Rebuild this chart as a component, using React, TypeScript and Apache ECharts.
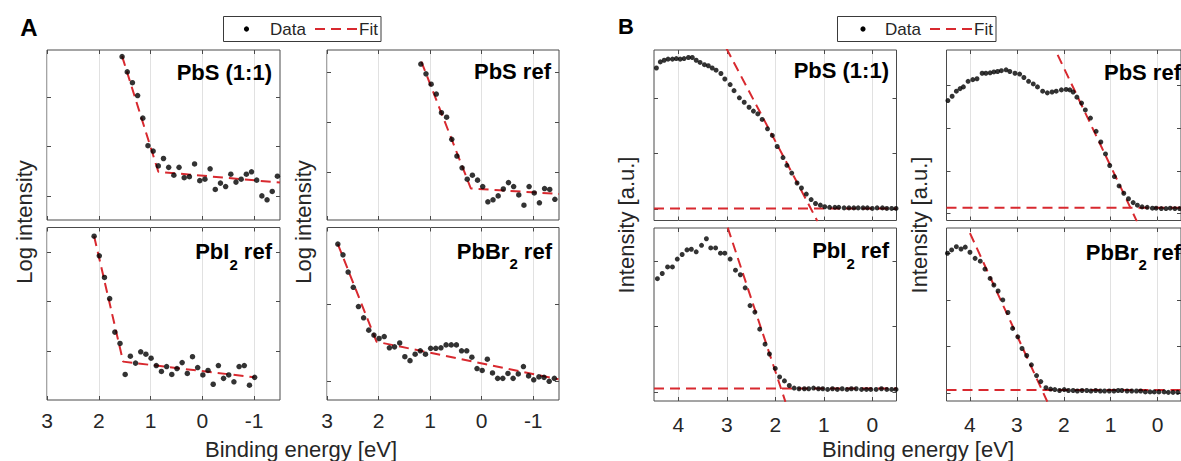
import React, { useEffect, useRef } from 'react';
import * as echarts from 'echarts';

const FONT = '"Liberation Sans", Arial, Helvetica, sans-serif';
const RED = '#d8292f';
const INK = '#262626';
const BOX = '#4a4a4a';

const legendItems = ['Data', 'Fit'];
const aXTickValues = [3, 2, 1, 0, -1];
const bXTickValues = [4, 3, 2, 1, 0];
const yTitleA = 'Log intensity';
const yTitleB = 'Intensity [a.u.]';
const xTitle = 'Binding energy [eV]';

// ---------- Panel A (log intensity) ----------
const aPbS11X = [1.55, 1.45, 1.35, 1.25, 1.15, 1.05, 0.95, 0.85, 0.75, 0.65, 0.55, 0.45, 0.35, 0.25, 0.15, 0.05, -0.05, -0.15, -0.25, -0.35, -0.45, -0.55, -0.65, -0.75, -0.85, -0.95, -1.05, -1.15, -1.25, -1.35, -1.45];
const aPbS11Y = [3.32, 3.01, 2.79, 2.53, 2.07, 1.51, 1.40, 1.10, 1.25, 1.07, 0.91, 1.07, 0.86, 0.88, 1.14, 0.80, 0.83, 1.04, 0.62, 0.75, 0.68, 0.93, 0.77, 0.83, 0.93, 0.98, 0.81, 0.49, 0.41, 0.58, 0.89];
const aPbS11FitX = [1.55, 0.85, -1.5];
const aPbS11FitY = [3.33, 0.98, 0.76];
const aPbS11YTicks = [0.49, 1.49, 2.49];

const aPbSRefX = [1.18, 1.08, 0.98, 0.88, 0.78, 0.68, 0.58, 0.48, 0.38, 0.28, 0.18, 0.08, -0.02, -0.12, -0.22, -0.32, -0.42, -0.52, -0.62, -0.72, -0.82, -0.92, -1.02, -1.12, -1.22, -1.32, -1.42];
const aPbSRefY = [3.17, 2.97, 2.76, 2.56, 2.18, 2.09, 1.64, 1.30, 1.06, 0.83, 0.91, 0.81, 0.68, 0.37, 0.41, 0.49, 0.63, 0.76, 0.68, 0.51, 0.30, 0.68, 0.55, 0.35, 0.64, 0.62, 0.42];
const aPbSRefFitX = [1.17, 0.21, -1.5];
const aPbSRefFitY = [3.22, 0.64, 0.53];
const aPbSRefYTicks = [0.98, 1.99, 3.0];

const aPbI2X = [2.09, 1.99, 1.89, 1.79, 1.69, 1.59, 1.49, 1.39, 1.29, 1.19, 1.09, 0.99, 0.89, 0.79, 0.69, 0.59, 0.49, 0.39, 0.29, 0.19, 0.09, -0.01, -0.11, -0.21, -0.31, -0.41, -0.51, -0.61, -0.71, -0.81, -0.91, -1.01];
const aPbI2Y = [3.33, 2.93, 2.49, 2.06, 1.38, 1.15, 0.52, 0.89, 0.75, 0.98, 0.93, 0.85, 0.70, 0.58, 0.68, 0.52, 0.64, 0.76, 0.54, 0.88, 0.66, 0.51, 0.60, 0.32, 0.70, 0.44, 0.51, 0.37, 0.68, 0.70, 0.30, 0.46];
const aPbI2FitX = [2.09, 1.53, -1.01];
const aPbI2FitY = [3.33, 0.78, 0.46];
const aPbI2YTicks = [1.0, 2.01, 3.01];

const aPbBr2X = [2.79, 2.69, 2.59, 2.49, 2.39, 2.29, 2.19, 2.09, 1.99, 1.89, 1.79, 1.69, 1.59, 1.49, 1.39, 1.29, 1.19, 1.09, 0.99, 0.89, 0.79, 0.69, 0.59, 0.49, 0.39, 0.29, 0.19, 0.09, -0.01, -0.11, -0.21, -0.31, -0.41, -0.51, -0.61, -0.71, -0.81, -0.91, -1.01, -1.11, -1.21, -1.31, -1.41];
const aPbBr2Y = [3.17, 2.95, 2.60, 2.29, 1.90, 1.67, 1.42, 1.32, 1.25, 1.29, 1.06, 1.08, 1.16, 0.88, 0.80, 0.93, 1.00, 0.93, 1.05, 1.05, 1.06, 1.12, 1.12, 1.12, 1.00, 1.00, 0.87, 0.64, 0.60, 0.83, 0.55, 0.44, 0.44, 0.54, 0.44, 0.53, 0.68, 0.49, 0.41, 0.47, 0.46, 0.38, 0.44];
const aPbBr2FitX = [2.79, 2.04, -1.49];
const aPbBr2FitY = [3.17, 1.185, 0.42];
const aPbBr2YTicks = [0.39, 1.95];

// ---------- Panel B (linear intensity) ----------
const bPbS11X = [4.45, 4.37, 4.29, 4.21, 4.12, 4.04, 3.96, 3.88, 3.79, 3.71, 3.63, 3.55, 3.46, 3.38, 3.30, 3.22, 3.12, 3.04, 2.93, 2.85, 2.74, 2.64, 2.54, 2.45, 2.36, 2.27, 2.16, 2.06, 1.96, 1.84, 1.76, 1.66, 1.55, 1.46, 1.36, 1.26, 1.17, 1.07, 0.98, 0.88, 0.77, 0.69, 0.58, 0.48, 0.38, 0.29, 0.19, 0.10, 0.00, -0.10, -0.21, -0.30, -0.40, -0.49];
const bPbS11Y = [2.55, 2.66, 2.69, 2.71, 2.71, 2.72, 2.71, 2.72, 2.74, 2.74, 2.69, 2.65, 2.61, 2.59, 2.55, 2.51, 2.45, 2.35, 2.25, 2.14, 2.01, 1.93, 1.84, 1.77, 1.72, 1.62, 1.45, 1.33, 1.13, 0.93, 0.79, 0.65, 0.47, 0.38, 0.27, 0.17, 0.10, 0.07, 0.04, 0.03, 0.03, 0.03, 0.02, 0.02, 0.02, 0.02, 0.02, 0.02, 0.01, 0.02, 0.02, 0.01, 0.01, 0.01];
const bPbS11SlopeX = [3.01, 1.13];
const bPbS11SlopeY = [2.91, -0.22];
const bPbS11BaseX = [4.5, -0.5];
const bPbS11BaseY = [0.01, 0.01];
const bPbS11YTicks = [0, 1, 2];

const bPbSRefX = [4.47, 4.38, 4.29, 4.21, 4.14, 4.04, 3.94, 3.85, 3.74, 3.66, 3.57, 3.49, 3.41, 3.33, 3.23, 3.15, 3.04, 2.94, 2.85, 2.75, 2.65, 2.56, 2.45, 2.35, 2.25, 2.16, 2.05, 1.95, 1.87, 1.80, 1.72, 1.62, 1.54, 1.43, 1.31, 1.21, 1.11, 1.02, 0.92, 0.82, 0.72, 0.62, 0.52, 0.43, 0.33, 0.22, 0.11, 0.03, -0.08, -0.18, -0.27, -0.37, -0.47];
const bPbSRefY = [2.65, 2.75, 2.87, 2.93, 2.97, 3.10, 3.14, 3.16, 3.29, 3.29, 3.30, 3.32, 3.33, 3.35, 3.37, 3.33, 3.29, 3.27, 3.19, 3.10, 3.04, 2.97, 2.87, 2.83, 2.85, 2.87, 2.90, 2.91, 2.90, 2.85, 2.73, 2.59, 2.43, 2.24, 1.93, 1.68, 1.40, 1.13, 0.87, 0.65, 0.48, 0.35, 0.26, 0.20, 0.16, 0.15, 0.13, 0.13, 0.12, 0.12, 0.13, 0.12, 0.12];
const bPbSRefSlopeX = [2.13, 0.44];
const bPbSRefSlopeY = [3.72, -0.18];
const bPbSRefBaseX = [4.5, -0.5];
const bPbSRefBaseY = [0.14, 0.14];
const bPbSRefYTicks = [0, 1, 2, 3];

const bPbI2X = [4.43, 4.33, 4.22, 4.12, 4.02, 3.92, 3.82, 3.73, 3.63, 3.52, 3.42, 3.33, 3.23, 3.13, 3.04, 2.93, 2.82, 2.72, 2.62, 2.52, 2.42, 2.32, 2.21, 2.12, 2.00, 1.91, 1.81, 1.71, 1.61, 1.51, 1.40, 1.31, 1.21, 1.11, 1.02, 0.92, 0.82, 0.72, 0.62, 0.52, 0.43, 0.33, 0.22, 0.12, 0.03, -0.08, -0.19, -0.30, -0.40, -0.49];
const bPbI2Y = [1.73, 1.81, 1.91, 1.91, 2.03, 2.10, 2.17, 2.18, 2.14, 2.24, 2.34, 2.20, 2.20, 2.12, 2.12, 2.03, 1.86, 1.79, 1.59, 1.32, 1.22, 0.96, 0.73, 0.58, 0.36, 0.23, 0.17, 0.10, 0.06, 0.05, 0.05, 0.05, 0.06, 0.05, 0.05, 0.04, 0.05, 0.04, 0.05, 0.04, 0.05, 0.05, 0.04, 0.04, 0.04, 0.04, 0.05, 0.04, 0.04, 0.04];
const bPbI2SlopeX = [2.98, 1.79];
const bPbI2SlopeY = [2.51, -0.15];
const bPbI2BaseX = [4.5, -0.5];
const bPbI2BaseY = [0.055, 0.055];
const bPbI2YTicks = [0, 1, 2];

const bPbBr2X = [4.48, 4.39, 4.29, 4.19, 4.10, 4.00, 3.89, 3.78, 3.68, 3.57, 3.49, 3.40, 3.30, 3.19, 3.09, 2.98, 2.89, 2.79, 2.69, 2.58, 2.49, 2.38, 2.28, 2.19, 2.09, 1.99, 1.90, 1.80, 1.71, 1.61, 1.51, 1.42, 1.32, 1.22, 1.13, 1.03, 0.93, 0.84, 0.76, 0.65, 0.55, 0.45, 0.36, 0.26, 0.16, 0.07, -0.03, -0.14, -0.23, -0.33, -0.43];
const bPbBr2Y = [3.00, 3.07, 3.14, 3.09, 3.13, 3.02, 2.89, 2.83, 2.66, 2.46, 2.32, 2.19, 2.00, 1.73, 1.39, 1.21, 0.96, 0.81, 0.61, 0.38, 0.25, 0.12, 0.09, 0.08, 0.06, 0.08, 0.06, 0.06, 0.05, 0.06, 0.06, 0.05, 0.06, 0.05, 0.05, 0.05, 0.05, 0.06, 0.06, 0.05, 0.05, 0.05, 0.05, 0.03, 0.03, 0.03, 0.03, 0.03, 0.02, 0.02, 0.02];
const bPbBr2SlopeX = [4.0, 2.35];
const bPbBr2SlopeY = [3.43, -0.18];
const bPbBr2BaseX = [4.5, -0.5];
const bPbBr2BaseY = [0.07, 0.07];
const bPbBr2YTicks = [0, 1, 2, 3];

// title pieces: [text, isSubscript]
const tPbS11: [string, boolean][] = [['PbS (1:1)', false]];
const tPbSRef: [string, boolean][] = [['PbS ref', false]];
const tPbI2: [string, boolean][] = [['PbI', false], ['2', true], [' ref', false]];
const tPbBr2: [string, boolean][] = [['PbBr', false], ['2', true], [' ref', false]];

type Plot = {
  title: [string, boolean][]; tx: number; ty: number;
  left: number; top: number; width: number; height: number;
  xMin: number; xMax: number; xTicks: number[]; xLabels: boolean; labelMargin: number;
  yMin: number; yMax: number; yTicks: number[];
  dataX: number[]; dataY: number[]; dot: number; fits: number[][][];
};

const plots: Plot[] = [
  { title: tPbS11, tx: 272, ty: 72.5, left: 47, top: 50, width: 233, height: 170, xMin: -1.5, xMax: 3, xTicks: aXTickValues, xLabels: false, labelMargin: 11, yMin: 0, yMax: 3.455, yTicks: aPbS11YTicks, dataX: aPbS11X, dataY: aPbS11Y, dot: 5.5, fits: [[aPbS11FitX, aPbS11FitY]] },
  { title: tPbSRef, tx: 551, ty: 71.5, left: 327, top: 50, width: 232, height: 170, xMin: -1.5, xMax: 3, xTicks: aXTickValues, xLabels: false, labelMargin: 11, yMin: 0, yMax: 3.455, yTicks: aPbSRefYTicks, dataX: aPbSRefX, dataY: aPbSRefY, dot: 5.5, fits: [[aPbSRefFitX, aPbSRefFitY]] },
  { title: tPbI2, tx: 272, ty: 251.5, left: 47, top: 227.5, width: 233, height: 172.5, xMin: -1.5, xMax: 3, xTicks: aXTickValues, xLabels: true, labelMargin: 10, yMin: 0, yMax: 3.506, yTicks: aPbI2YTicks, dataX: aPbI2X, dataY: aPbI2Y, dot: 5.5, fits: [[aPbI2FitX, aPbI2FitY]] },
  { title: tPbBr2, tx: 552, ty: 251, left: 327, top: 227.5, width: 232, height: 172.5, xMin: -1.5, xMax: 3, xTicks: aXTickValues, xLabels: true, labelMargin: 10, yMin: 0, yMax: 3.506, yTicks: aPbBr2YTicks, dataX: aPbBr2X, dataY: aPbBr2Y, dot: 5.5, fits: [[aPbBr2FitX, aPbBr2FitY]] },
  { title: tPbS11, tx: 889, ty: 70.5, left: 654, top: 50, width: 242.5, height: 170.5, xMin: -0.5, xMax: 4.5, xTicks: bXTickValues, xLabels: false, labelMargin: 13, yMin: -0.208, yMax: 2.875, yTicks: bPbS11YTicks, dataX: bPbS11X, dataY: bPbS11Y, dot: 5, fits: [[bPbS11BaseX, bPbS11BaseY], [bPbS11SlopeX, bPbS11SlopeY]] },
  { title: tPbSRef, tx: 1181, ty: 72, left: 946.5, top: 50, width: 242.5, height: 170.5, xMin: -0.5, xMax: 4.5, xTicks: bXTickValues, xLabels: false, labelMargin: 13, yMin: -0.159, yMax: 3.834, yTicks: bPbSRefYTicks, dataX: bPbSRefX, dataY: bPbSRefY, dot: 5, fits: [[bPbSRefBaseX, bPbSRefBaseY], [bPbSRefSlopeX, bPbSRefSlopeY]] },
  { title: tPbI2, tx: 889, ty: 250.8, left: 654, top: 228, width: 242.5, height: 173, xMin: -0.5, xMax: 4.5, xTicks: bXTickValues, xLabels: true, labelMargin: 13, yMin: -0.137, yMax: 2.504, yTicks: bPbI2YTicks, dataX: bPbI2X, dataY: bPbI2Y, dot: 5, fits: [[bPbI2BaseX, bPbI2BaseY], [bPbI2SlopeX, bPbI2SlopeY]] },
  { title: tPbBr2, tx: 1181, ty: 252, left: 946.5, top: 228, width: 242.5, height: 173, xMin: -0.5, xMax: 4.5, xTicks: bXTickValues, xLabels: true, labelMargin: 13, yMin: -0.165, yMax: 3.54, yTicks: bPbBr2YTicks, dataX: bPbBr2X, dataY: bPbBr2Y, dot: 5, fits: [[bPbBr2BaseX, bPbBr2BaseY], [bPbBr2SlopeX, bPbBr2SlopeY]] },
];

const zip = (xs: number[], ys: number[]) => xs.map((x, i) => [x, ys[i]]);

function makeMeasurer() {
  const ctx = document.createElement('canvas').getContext('2d');
  return (text: string, size: number, weight: string) => {
    if (!ctx) return text.length * size * 0.6;
    ctx.font = `${weight} ${size}px "Liberation Sans", Arial, sans-serif`;
    return ctx.measureText(text).width;
  };
}

function buildOption() {
  const measure = makeMeasurer();
  const grid: any[] = [];
  const xAxis: any[] = [];
  const yAxis: any[] = [];
  const series: any[] = [];
  const graphic: any[] = [];

  const tick = (vals: number[]) => ({
    show: true, inside: true, length: 4, customValues: vals,
    lineStyle: { color: BOX, width: 1 },
  });

  const MAIN = 22;
  const SUB = 15;

  plots.forEach((p, i) => {
    grid.push({
      left: p.left, top: p.top, width: p.width, height: p.height,
      show: true, borderColor: BOX, borderWidth: 1, backgroundColor: '#ffffff',
    });
    const xCommon = { type: 'value', gridIndex: i, min: p.xMin, max: p.xMax, inverse: true, axisLine: { show: false, onZero: false } };
    xAxis.push({
      ...xCommon, position: 'bottom',
      axisTick: tick(p.xTicks),
      splitLine: { show: true, lineStyle: { color: '#e1e1e1', width: 1 } },
      axisLabel: {
        show: p.xLabels, customValues: p.xTicks, margin: p.labelMargin,
        fontSize: 21, color: INK, fontFamily: FONT,
      },
    });
    xAxis.push({
      ...xCommon, position: 'top',
      axisTick: tick(p.xTicks), splitLine: { show: false }, axisLabel: { show: false },
    });
    const yCommon = {
      type: 'value', gridIndex: i, min: p.yMin, max: p.yMax,
      axisLine: { show: false, onZero: false }, splitLine: { show: false }, axisLabel: { show: false },
      axisTick: tick(p.yTicks),
    };
    yAxis.push({ ...yCommon, position: 'left' });
    yAxis.push({ ...yCommon, position: 'right' });

    p.fits.forEach(([fx, fy]) => {
      series.push({
        type: 'line', name: 'Fit', xAxisIndex: 2 * i, yAxisIndex: 2 * i,
        data: zip(fx, fy), symbol: 'none', showSymbol: false, clip: true, silent: true, z: 2,
        lineStyle: { color: RED, width: 2, type: [10, 6] }, itemStyle: { color: RED },
      });
    });
    series.push({
      type: 'scatter', name: 'Data', xAxisIndex: 2 * i, yAxisIndex: 2 * i,
      data: zip(p.dataX, p.dataY), symbol: 'circle', symbolSize: p.dot, silent: true, z: 3,
      itemStyle: { color: '#000000' },
    });

    // panel title, laid out right-to-left so that subscripts sit low
    let xr = p.tx;
    for (let k = p.title.length - 1; k >= 0; k--) {
      const [txt, sub] = p.title[k];
      const size = sub ? SUB : MAIN;
      graphic.push({
        type: 'text', x: xr, y: sub ? p.ty + 12.5 : p.ty, z: 100,
        style: { text: txt, align: 'right', verticalAlign: 'middle', fill: '#000', fontSize: size, fontWeight: 'bold', fontFamily: FONT },
      });
      xr -= measure(txt, size, 'bold');
    }
  });

  const plainText = (text: string, x: number, y: number, size: number, weight: string, rot = 0, align = 'center', fill = INK) => ({
    type: 'text', x, y, rotation: rot, z: 100,
    style: { text, align, verticalAlign: 'middle', fill, fontSize: size, fontWeight: weight, fontFamily: FONT },
  });

  graphic.push(plainText('A', 29, 27, 24, 'bold', 0, 'center', '#000'));
  graphic.push(plainText('B', 626, 26, 22, 'bold', 0, 'center', '#000'));
  graphic.push(plainText(yTitleA, 24, 222, 22, 'normal', Math.PI / 2));
  graphic.push(plainText(yTitleA, 303, 222, 22, 'normal', Math.PI / 2));
  graphic.push(plainText(yTitleB, 626, 225, 22, 'normal', Math.PI / 2));
  graphic.push(plainText(yTitleB, 919, 225, 22, 'normal', Math.PI / 2));
  graphic.push(plainText(xTitle, 301, 449, 22, 'normal'));
  graphic.push(plainText(xTitle, 918, 449, 22, 'normal'));

  // legends (drawn as graphic so they match the reference boxes)
  const legendBox = (x0: number, w: number, dotX: number, dataX: number, dashX0: number, dashX1: number, fitX: number) => {
    graphic.push({ type: 'rect', shape: { x: x0 + 0.5, y: 16.5, width: w, height: 25 }, z: 100, style: { fill: '#fff', stroke: '#3a3a3a', lineWidth: 1 } });
    graphic.push({ type: 'circle', shape: { cx: dotX, cy: 29, r: 2.6 }, z: 101, style: { fill: '#000' } });
    graphic.push(plainText(legendItems[0], dataX, 29, 17, 'normal', 0, 'left'));
    graphic.push({ type: 'line', shape: { x1: dashX0, y1: 29, x2: dashX1, y2: 29 }, z: 101, style: { stroke: RED, lineWidth: 2, lineDash: [10, 6] } });
    graphic.push(plainText(legendItems[1], fitX, 29, 17, 'normal', 0, 'left'));
  };
  legendBox(223, 157.5, 246.5, 270, 315, 357, 359);
  legendBox(837, 158.5, 863, 885, 930, 972, 974);

  return {
    animation: false,
    backgroundColor: '#ffffff',
    textStyle: { fontFamily: FONT },
    grid, xAxis, yAxis, series, graphic,
  };
}

export default function App() {
  const ref = useRef<HTMLDivElement>(null);
  useEffect(() => {
    if (!ref.current) return;
    const chart = echarts.init(ref.current, undefined, { renderer: 'svg' });
    chart.setOption(buildOption() as any);
    return () => chart.dispose();
  }, []);
  return (
    <div
      ref={ref}
      style={{ position: 'fixed', left: 0, top: 0, width: 1181, height: 461, background: '#fff' }}
    />
  );
}
